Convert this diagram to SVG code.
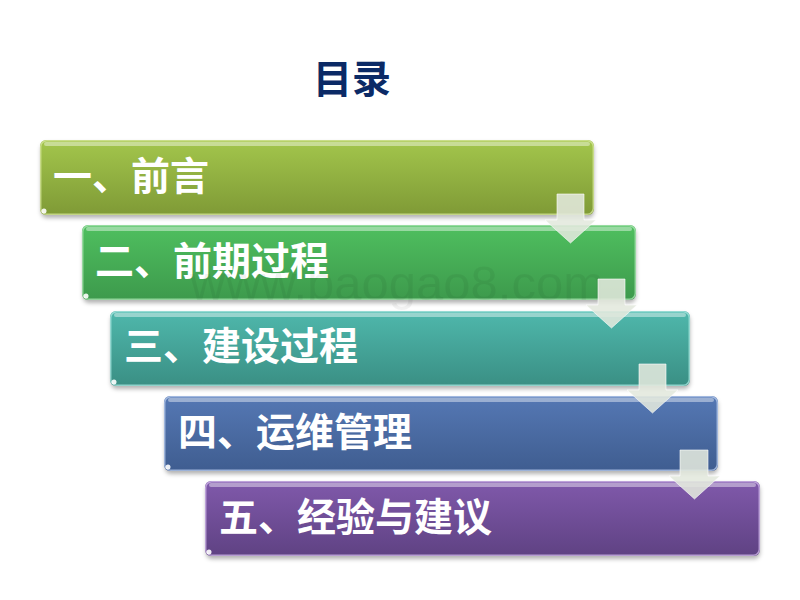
<svg xmlns="http://www.w3.org/2000/svg" width="800" height="600" viewBox="0 0 800 600">
<style>
text{font-family:"Noto Sans CJK SC","Liberation Sans",sans-serif;font-weight:700}
.label{font-size:39px;fill:#fff}
.title{font-size:39px;fill:#0b2a66}
.edge{fill:none;stroke-opacity:.8;stroke-width:1.500}
.hl{fill:#fff;fill-opacity:.42}
.dot{fill:#fff;fill-opacity:.9}
.shadow{fill:#000;fill-opacity:.3;filter:url(#blur)}
.arrow{fill:#e2e8dd;fill-opacity:.88;stroke:#fff;stroke-opacity:.6;stroke-width:1}
.wm{font-family:"Liberation Sans",sans-serif;font-weight:400;font-size:49px;fill:#000;fill-opacity:.05}
</style>
<defs>
<filter id="blur" x="-5%" y="-20%" width="110%" height="140%"><feGaussianBlur stdDeviation="2"/></filter>
<linearGradient id="g1" x1="0" y1="0" x2="0" y2="1"><stop offset="0" stop-color="#a3c64c"/><stop offset="1" stop-color="#7f9a36"/></linearGradient>
<linearGradient id="g2" x1="0" y1="0" x2="0" y2="1"><stop offset="0" stop-color="#4fbf5f"/><stop offset="1" stop-color="#3d9a4c"/></linearGradient>
<linearGradient id="g3" x1="0" y1="0" x2="0" y2="1"><stop offset="0" stop-color="#4fb8ac"/><stop offset="1" stop-color="#3a8f84"/></linearGradient>
<linearGradient id="g4" x1="0" y1="0" x2="0" y2="1"><stop offset="0" stop-color="#5578b4"/><stop offset="1" stop-color="#3f5d90"/></linearGradient>
<linearGradient id="g5" x1="0" y1="0" x2="0" y2="1"><stop offset="0" stop-color="#8059ab"/><stop offset="1" stop-color="#5f4283"/></linearGradient>
</defs>
<g id="title"><text class="title" x="313" y="93">目录</text></g>
<g id="node1">
<rect class="shadow" x="41" y="143" width="553" height="75" rx="6"/>
<rect x="40" y="140" width="554" height="75" rx="6" fill="url(#g1)"/>
<rect x="40.700" y="140.700" width="552.600" height="73.600" rx="6" class="edge" stroke="#d3e49a"/>
<rect class="hl" x="44" y="142" width="546" height="4" rx="2"/>
<circle class="dot" cx="44" cy="211" r="2.500"/>
<text class="label" x="53" y="190">一、前言</text>
</g>
<g id="node2">
<rect class="shadow" x="83" y="228" width="553" height="75" rx="6"/>
<rect x="82" y="225" width="554" height="75" rx="6" fill="url(#g2)"/>
<rect x="82.700" y="225.700" width="552.600" height="73.600" rx="6" class="edge" stroke="#a9e2b0"/>
<rect class="hl" x="86" y="227" width="546" height="4" rx="2"/>
<circle class="dot" cx="86" cy="296" r="2.500"/>
<text class="label" x="95" y="275">二、前期过程</text>
</g>
<g id="node3">
<rect class="shadow" x="111" y="314" width="579" height="75" rx="6"/>
<rect x="110" y="311" width="580" height="75" rx="6" fill="url(#g3)"/>
<rect x="110.700" y="311.700" width="578.600" height="73.600" rx="6" class="edge" stroke="#a8e4dd"/>
<rect class="hl" x="114" y="313" width="572" height="4" rx="2"/>
<circle class="dot" cx="114" cy="382" r="2.500"/>
<text class="label" x="124" y="360">三、建设过程</text>
</g>
<g id="node4">
<rect class="shadow" x="165" y="399" width="553" height="75" rx="6"/>
<rect x="164" y="396" width="554" height="75" rx="6" fill="url(#g4)"/>
<rect x="164.700" y="396.700" width="552.600" height="73.600" rx="6" class="edge" stroke="#b4c8ea"/>
<rect class="hl" x="168" y="398" width="546" height="4" rx="2"/>
<circle class="dot" cx="168" cy="467" r="2.500"/>
<text class="label" x="178" y="446">四、运维管理</text>
</g>
<g id="node5">
<rect class="shadow" x="206" y="484" width="554" height="75" rx="6"/>
<rect x="205" y="481" width="555" height="75" rx="6" fill="url(#g5)"/>
<rect x="205.700" y="481.700" width="553.600" height="73.600" rx="6" class="edge" stroke="#cdb5e6"/>
<rect class="hl" x="209" y="483" width="547" height="4" rx="2"/>
<circle class="dot" cx="209" cy="552" r="2.500"/>
<text class="label" x="219" y="531">五、经验与建议</text>
</g>
<text class="wm" x="190" y="300">www.baogao8.com</text>
<g id="connectors">
<polygon class="arrow" points="557,194 584,194 584,220 596,220 570.500,243 545,220 557,220"/>
<polygon class="arrow" points="598,279 625,279 625,305 637,305 611.500,328 586,305 598,305"/>
<polygon class="arrow" points="639,364 666,364 666,390 678,390 652.500,413 627,390 639,390"/>
<polygon class="arrow" points="680,450 708,450 708,476 720,476 694.500,499 669,476 680,476"/>
</g>
</svg>
